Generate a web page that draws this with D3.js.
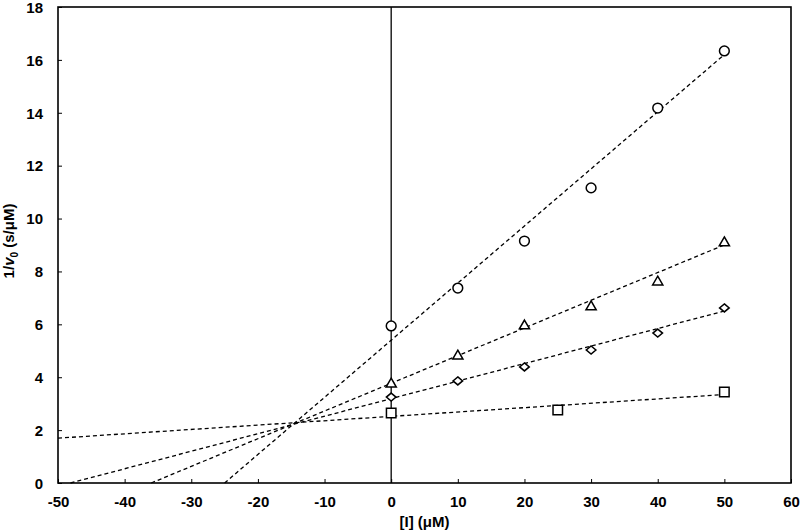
<!DOCTYPE html>
<html>
<head>
<meta charset="utf-8">
<script src="https://d3js.org/d3.v7.min.js"></script>
<style>
  body { margin: 0; background: #fff; }
  text { font-family: Arial, "Liberation Sans", sans-serif; font-weight: bold; }
</style>
</head>
<body>
<svg width="800" height="530"></svg>
<script>
// inhibitor concentrations and 1/v0 values
var circleX = [0, 10, 20, 30, 40, 50];
var circleY = [5.94, 7.37, 9.15, 11.16, 14.18, 16.34];
var triangleX = [0, 10, 20, 30, 40, 50];
var triangleY = [3.74, 4.80, 5.94, 6.66, 7.60, 9.08];
var diamondX = [0, 10, 20, 30, 40, 50];
var diamondY = [3.25, 3.86, 4.39, 5.03, 5.67, 6.62];
var squareX = [0, 25, 50];
var squareY = [2.65, 2.76, 3.44];

// fitted lines (slope, intercept) as drawn
var fitSlope = [0.216, 0.1047, 0.0663, 0.0165];
var fitIntercept = [5.40, 3.77, 3.19, 2.52];

var xTicks = [-50, -40, -30, -20, -10, 0, 10, 20, 30, 40, 50, 60];
var yTicks = [0, 2, 4, 6, 8, 10, 12, 14, 16, 18];

var svg = d3.select('svg');
var padding = {t: 7, r: 9, b: 47, l: 58};
var chartWidth = 800 - padding.l - padding.r;
var chartHeight = 530 - padding.t - padding.b;

var xScale = d3.scaleLinear().domain([-50, 60]).range([0, chartWidth]);
var yScale = d3.scaleLinear().domain([0, 18]).range([chartHeight, 0]);

var chart = svg.append('g')
    .attr('transform', 'translate(' + [padding.l, padding.t] + ')');

// frame
chart.append('rect')
    .attr('width', chartWidth).attr('height', chartHeight)
    .attr('fill', 'none').attr('stroke', '#000').attr('stroke-width', 1.6);

// axes with inward ticks
var plain = function(d) { return String(d); };
var xAxis = chart.append('g')
    .attr('transform', 'translate(0,' + chartHeight + ')')
    .call(d3.axisBottom(xScale).tickValues(xTicks).tickFormat(plain).tickSize(-4).tickPadding(13));
var yAxis = chart.append('g')
    .call(d3.axisLeft(yScale).tickValues(yTicks).tickFormat(plain).tickSize(-4).tickPadding(15));
[xAxis, yAxis].forEach(function(ax) {
  ax.select('.domain').remove();
  ax.selectAll('line').attr('stroke', '#000');
  ax.selectAll('text').attr('font-size', 15).attr('fill', '#000')
    .attr('font-family', 'Arial, "Liberation Sans", sans-serif').attr('font-weight', 'bold');
});
yAxis.selectAll('text').attr('dy', '0.35em');
xAxis.selectAll('text').attr('dy', '0.71em');

// vertical line at x = 0
chart.append('line')
    .attr('x1', xScale(0)).attr('x2', xScale(0))
    .attr('y1', 0).attr('y2', chartHeight)
    .attr('stroke', '#000').attr('stroke-width', 1.3);

// dashed fit lines, starting at y = 0 or x = -50, ending at x = 50
fitSlope.forEach(function(m, i) {
  var b = fitIntercept[i];
  var x0 = Math.max(-50, -b / m);
  chart.append('line')
      .attr('x1', xScale(x0)).attr('y1', yScale(m * x0 + b))
      .attr('x2', xScale(50)).attr('y2', yScale(m * 50 + b))
      .attr('stroke', '#000').attr('stroke-width', 1.3)
      .attr('stroke-dasharray', '4,3');
});

function addPoints(xs, ys, symbol, size) {
  chart.selectAll(null)
      .data(xs.map(function(x, i) { return {x: x, y: ys[i]}; }))
      .enter().append('path')
      .attr('d', d3.symbol().type(symbol).size(size))
      .attr('transform', function(d) { return 'translate(' + [xScale(d.x), yScale(d.y)] + ')'; })
      .attr('fill', '#fff').attr('stroke', '#000').attr('stroke-width', 1.5);
}

var diamondShape = {
  draw: function(ctx, size) {
    var w = Math.sqrt(size) * 0.6, h = Math.sqrt(size) * 0.5;
    ctx.moveTo(0, -h); ctx.lineTo(w, 0); ctx.lineTo(0, h); ctx.lineTo(-w, 0); ctx.closePath();
  }
};

addPoints(circleX, circleY, d3.symbolCircle, 75);
addPoints(triangleX, triangleY, d3.symbolTriangle, 45);
addPoints(diamondX, diamondY, diamondShape, 64);
addPoints(squareX, squareY, d3.symbolSquare, 90);

// axis titles
svg.append('text')
    .attr('x', padding.l + chartWidth / 2).attr('y', 527)
    .attr('text-anchor', 'middle').attr('font-size', 15)
    .text('[I] (μM)');

var yTitle = svg.append('text')
    .attr('transform', 'translate(14,241) rotate(-90)')
    .attr('text-anchor', 'middle').attr('font-size', 15);
yTitle.append('tspan').text('1/');
yTitle.append('tspan').attr('font-style', 'italic').text('v');
yTitle.append('tspan').attr('font-size', 10).attr('dy', 4).text('0');
yTitle.append('tspan').attr('dy', -4).text(' (s/μM)');
</script>
</body>
</html>
